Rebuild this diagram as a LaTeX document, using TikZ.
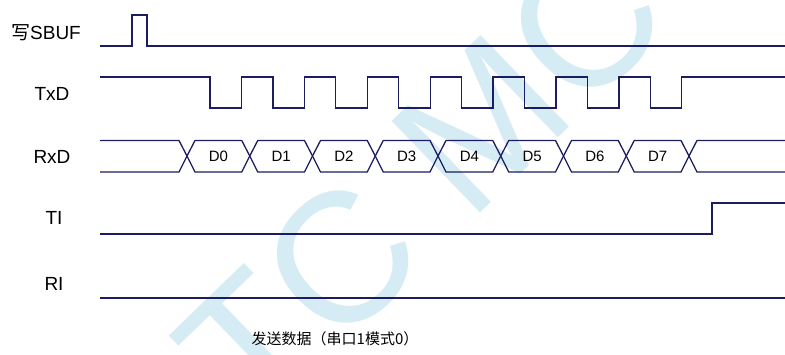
\documentclass[tikz,border=0pt]{standalone}
\usepackage{fontspec}
\setmainfont{Liberation Sans}
\newfontfamily\cjk{Noto Sans CJK SC}
\usetikzlibrary{positioning,calc}
\definecolor{wavecol}{RGB}{28,28,96}
\definecolor{markcol}{RGB}{214,236,245}

\begin{document}
\begin{tikzpicture}[x=1pt,y=-1pt]
  \tikzset{
    wave/.style={draw=wavecol, line width=1.3pt},
    sig/.style={font=\fontsize{19}{19}\selectfont, inner sep=0pt},
    bit/.style={font=\fontsize{15}{15}\selectfont, inner sep=0pt},
  }
  \useasboundingbox (0,0) rectangle (785,354);

  % watermark
  \begin{scope}
    \clip (0,0) rectangle (785,354);
    \node[text=markcol, rotate=44, font=\fontsize{185}{185}\selectfont] (wm) at (425,178) {STC MCU};
  \end{scope}

  % signal names
  \node[sig] (wr) at (46,33) {{\cjk 写}SBUF};
  \node[sig] (txd) at (52,94) {TxD};
  \node[sig] (rxd) at (52,157) {RxD};
  \node[sig] (ti) at (54,218) {TI};
  \node[sig] (ri) at (54,284) {RI};

  % write SBUF pulse
  \draw[wave] (100,46) -- (132,46) -- (132,15) -- (147,15) -- (147,46) -- (785,46);

  % TxD clock
  \draw[wave] (100,77) foreach \k in {0,...,7} {
      -- ({210+62.9*\k},77) -- ({210+62.9*\k},108)
      -- ({241.5+62.9*\k},108) -- ({241.5+62.9*\k},77)} -- (785,77);

  % RxD data bus
  \def\hw{8}
  \draw[wave] (100,140.5) -- ({187-\hw},140.5) -- (187,156) -- ({187-\hw},172) -- (100,172);
  \foreach \k [evaluate=\k as \ca using {187+62.75*\k},
               evaluate=\k as \cb using {187+62.75*(\k+1)}] in {0,...,7} {
    \draw[wave] (\ca,156) -- (\ca+\hw,140.5) -- (\cb-\hw,140.5) -- (\cb,156)
      -- (\cb-\hw,172) -- (\ca+\hw,172) -- cycle;
    \node[bit] (d\k) at ({(\ca+\cb)/2},156) {D\k};
  }
  \draw[wave] (785,140.5) -- ({689+\hw},140.5) -- (689,156) -- ({689+\hw},172) -- (785,172);

  % TI, RI
  \draw[wave] (100,234) -- (712,234) -- (712,203) -- (785,203);
  \draw[wave] (100,298) -- (785,298);

  \node[font=\cjk\fontsize{15}{15}\selectfont] (cap) at (335,339) {发送数据（串口1模式0）};
\end{tikzpicture}
\end{document}
